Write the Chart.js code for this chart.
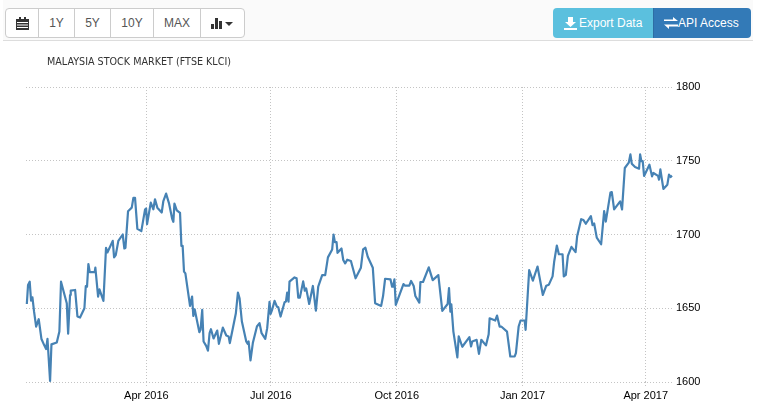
<!DOCTYPE html>
<html>
<head>
<meta charset="utf-8">
<title>Malaysia Stock Market (FTSE KLCI)</title>
<script src="https://cdn.jsdelivr.net/npm/chart.js@4"></script>
<style>
    html, body { margin: 0; padding: 0; background: #fff; }
    body { width: 758px; height: 408px; overflow: hidden; position: relative; font-family: "Liberation Sans", Arial, sans-serif; }
    #score-wrap { position: absolute; left: 0; top: 0; width: 758px; height: 408px; }
    .toolbar-bg { position: absolute; left: 3px; top: 0; width: 750px; height: 40px; background: #fafafa; border-bottom: 1px solid #ddd; }
    .btn-group { position: absolute; left: 5px; top: 8px; height: 28px; display: flex; background: #fff; border: 1px solid #ccc; border-radius: 4px; font-size: 12px; color: #555; }
    .btn-group div { display: flex; align-items: center; justify-content: center; border-left: 1px solid #ccc; box-sizing: border-box; }
    .btn-group div:first-child { border-left: 0; }
    .action { position: absolute; top: 8px; height: 30px; display: flex; align-items: center; color: #fff; font-size: 12px; box-sizing: border-box; }
    .export { left: 553px; width: 100px; background: #5bc0de; border-radius: 4px 0 0 4px; padding-left: 11px; }
    .api { left: 653px; width: 98px; background: #337ab7; border-left: 1px solid #2e6da4; border-radius: 0 4px 4px 0; padding-left: 10px; }
    .chart-title { position: absolute; left: 47px; top: 56px; font: 9.6px "DejaVu Sans", sans-serif; color: #333; white-space: nowrap; }
</style>
</head>
<body>
<div id="score-wrap"><canvas id="klci-chart" width="758" height="408"></canvas></div>
<div class="toolbar-bg"></div>
<div class="btn-group">
    <div style="width:32px"><svg width="13" height="13" viewBox="0 0 13 13"><path fill="#333" d="M0 2h13v11H0zM3 0h2v2H3zM8 0h2v2H8z"/><path stroke="#fff" stroke-width="1" d="M1 5.500h11M1 8h11M1 10.500h11"/></svg></div>
    <div style="width:36px">1Y</div>
    <div style="width:36px">5Y</div>
    <div style="width:43px">10Y</div>
    <div style="width:47px">MAX</div>
    <div style="width:44px"><svg width="24" height="12" viewBox="0 0 24 12"><path fill="#333" d="M0 7h3v5H0zM4 1h3v11H4zM8 4h3v8H8zM14 5h8l-4 4z"/></svg></div>
</div>
<div class="action export"><svg width="13" height="13" viewBox="0 0 13 13" style="margin-right:2px"><path fill="#fff" d="M4 0h5v5h3L6.500 10 1 5h3zM0 11h13v2H0z"/></svg>Export Data</div>
<div class="action api"><svg width="14" height="12" viewBox="0 0 14 12"><path fill="#fff" d="M0 2.500h9V0l5 4H0zM14 7.500v2H5V12L0 7.500z"/></svg>API Access</div>
<div class="chart-title">MALAYSIA STOCK MARKET (FTSE KLCI)</div>

<script>
// days since 1 Jan 2016
var days = [3.6, 4.5, 5.7, 6.7, 7.7, 8.9, 10.4, 12.3, 14.3, 16.2, 17.7, 18.7, 20.6, 21.6, 25.5, 27.4, 28.6, 32.8, 33.8, 35.2, 35.7, 38.9, 40.6, 42.5, 45.7, 46.7, 47.6, 48.6, 49.6, 53.2, 53.7, 55.7, 56.7, 59.6, 61.5, 62.5, 66.4, 67.4, 68.6, 70.5, 73.7, 74.9, 75.7, 77.6, 80.3, 81.5, 82.7, 84.4, 87.3, 90, 90.8, 91.5, 94.2, 96.1, 97.3, 99, 102.2, 103.4, 105.4, 107.6, 109.8, 110.7, 111.5, 113.2, 115.6, 116.6, 117.5, 118.5, 119.5, 122.9, 124.4, 125.3, 126.3, 129.7,
    130.6, 131.8, 132.8, 134.7, 136, 137.2, 138.2, 140.1, 142.8, 144, 146.9, 149.4, 151.1, 152, 154.2, 156.4, 157.9, 159.1, 160.8, 164, 165, 165.7, 167.1, 168.8, 171.8, 173.7, 175.2, 177.9, 179.3, 181, 181.8, 183, 184.7, 186.4, 187.4, 189.1, 192, 193, 193.9, 194.9, 195.6, 199.3, 200.8, 202, 203.2, 205.6, 206.8, 207.8, 210, 212.7, 214.9, 216.6, 219.5, 221.7, 223.7, 226.8, 227.8, 228.8, 230, 230.7, 233.6, 234.9, 236.3, 237.8, 240.5, 243.9, 247.8,
    249.4, 251.1, 252.8, 256.5, 258.2, 262.6, 264, 265.5, 269.4, 270.6, 271.3, 272.3, 273.3, 278.9, 280.1, 283.2, 284.5, 286.4, 287.6, 290.5, 291.3, 293.2, 297.4, 300.3, 304.4, 307.3, 311.2, 312.2, 313.2, 313.9, 315.4, 318.3, 319.3, 321.9, 327.1, 328.3, 329.2, 332.4, 334.1, 335.8, 339.2, 341.2, 341.9, 346, 347.3, 349.2, 350.4, 354.6, 357, 360.2, 361.1, 363.1, 364.5, 367.5, 368.2,
    370.8, 373.5, 376.9, 380.8, 383.3, 385.2, 387.9, 389.1, 391, 392.5, 395.2, 396.1, 397.6, 399.1, 401.7, 404.7, 405.9, 408.8, 410.5, 412.2, 415.9, 417.1, 418.3, 420.2, 423.4, 425.6, 426.8, 430.2, 431.2, 432.9, 437.3, 438.7, 440.7, 443.6, 444.8, 445.8, 448.2, 451.1, 451.9, 452.8, 453.8, 454.8, 458.7, 460.6, 461.6, 465, 465.7, 466.7, 468.9, 471.8, 473, 474.2, 475.2];

var klci = [1652.9, 1665.8, 1668, 1655.2, 1657.4, 1647.7, 1637.6, 1642.6, 1629.1, 1625.2, 1622.3, 1629.3, 1600.7, 1625.5, 1626.8, 1634.2, 1668, 1653.4, 1632.7, 1659, 1661.9, 1662.4, 1644.4, 1643.7, 1650, 1665.1, 1664.6, 1680, 1674.5, 1674.5, 1677.5, 1657.9, 1662.8, 1655, 1691, 1687.8, 1695.7, 1684.5, 1686, 1695.7, 1700, 1690.5, 1691, 1715.8, 1718.2, 1724.8, 1724.8, 1703.8, 1702.3, 1716.9, 1717.6, 1707, 1721.6, 1717.1, 1723.9, 1718.2, 1714.9, 1722.7, 1727.7, 1720.9, 1710.8, 1708.6, 1720.9, 1716.4, 1714.6, 1692.3, 1692.3, 1674.8, 1673.6, 1651.6, 1657.9, 1644.8, 1649.3, 1633.8,
    1635.4, 1648.9, 1627.5, 1624.5, 1621.2, 1633.1, 1635.8, 1629.5, 1634.9, 1625.9, 1636.9, 1631.5, 1630.9, 1626.4, 1636.5, 1646.6, 1660.6, 1656.8, 1641, 1627.5, 1625.9, 1627.5, 1614.6, 1626.4, 1637.6, 1639.9, 1633.1, 1629.3, 1636.5, 1654.3, 1646.2, 1649.3, 1655, 1651.1, 1650.7, 1644.4, 1654.1, 1654.5, 1660.6, 1654.5, 1668, 1670.9, 1670.3, 1657.2, 1657.2, 1668.2, 1661.9, 1663.5, 1652.9, 1665.1, 1648.4, 1664.6, 1672.5, 1672.5, 1684.5, 1689.9, 1700, 1694.8, 1694.8, 1687.6, 1690.5, 1682.7, 1680.4, 1682.9, 1682, 1670.3, 1677.5,
    1689.9, 1691, 1684.9, 1677.5, 1653.4, 1651.6, 1658.3, 1670, 1669.6, 1664.6, 1664.6, 1669.6, 1652.3, 1666.4, 1665.3, 1665.3, 1668.5, 1665.1, 1658.3, 1653.8, 1667.8, 1667.8, 1677.7, 1669.1, 1672.5, 1648.2, 1652.9, 1663.7, 1647.7, 1652.7, 1634.2, 1616.7, 1630.9, 1623.9, 1630.4, 1624.1, 1627.5, 1628.6, 1619.1, 1628.6, 1624.8, 1632.4, 1643.2, 1641.7, 1645, 1637.6, 1637.6, 1634.2, 1617.3, 1617.3, 1619.6, 1637.6, 1641.7, 1641.7, 1635.4,
    1675.8, 1668.7, 1678.3, 1659, 1665.3, 1666, 1671.6, 1681.7, 1692.5, 1686.6, 1686.6, 1671.6, 1672.7, 1685.5, 1691.6, 1688, 1699, 1710.4, 1709.8, 1707.3, 1712.5, 1706.4, 1707.5, 1697.9, 1693.4, 1715.8, 1708.7, 1728.4, 1728.7, 1717, 1722.4, 1717, 1745.1, 1748.7, 1754.3, 1748, 1745.7, 1744.6, 1754.3, 1749.8, 1749.8, 1739.7, 1747.3, 1739.4, 1741.7, 1739.7, 1737.2, 1744.2, 1730.9, 1733.8, 1740.6, 1739, 1739.9];

var tickDays = [91, 182, 274, 366, 456];
var tickLabels = ['Apr 2016', 'Jul 2016', 'Oct 2016', 'Jan 2017', 'Apr 2017'];
var yTicks = [1600, 1650, 1700, 1750, 1800];

var points = days.map(function (d, i) { return { x: d, y: klci[i] }; });
var tickFont = { family: 'Liberation Sans', size: 11 };

Chart.defaults.animation = false;

new Chart(document.getElementById('klci-chart'), {
    type: 'line',
    data: {
        datasets: [{
            label: 'FTSE KLCI',
            data: points,
            borderColor: '#4682b4',
            borderWidth: 2.2,
            borderJoinStyle: 'round',
            pointRadius: 0,
            tension: 0,
            fill: false,
            clip: false
        }]
    },
    options: {
        responsive: false,
        layout: { padding: { left: 26, top: 87, right: 0, bottom: 0 } },
        plugins: { legend: { display: false }, tooltip: { enabled: false } },
        scales: {
            x: {
                type: 'linear',
                min: 3,
                max: 475.2,
                afterBuildTicks: function (scale) {
                    scale.ticks = tickDays.map(function (d) { return { value: d }; });
                },
                afterFit: function (scale) { scale.height = 26; },
                ticks: {
                    autoSkip: false,
                    maxRotation: 0,
                    padding: 1,
                    color: '#000',
                    font: tickFont,
                    callback: function (val) { return tickLabels[tickDays.indexOf(val)]; }
                },
                border: { display: false, dash: [1, 2] },
                grid: { color: '#c4c4c4', lineWidth: 1, tickLength: 6, tickColor: '#c4c4c4', tickBorderDash: [1, 2] }
            },
            y: {
                position: 'right',
                min: 1600,
                max: 1800,
                afterBuildTicks: function (scale) {
                    scale.ticks = yTicks.map(function (v) { return { value: v }; });
                },
                afterFit: function (scale) { scale.width = 86; },
                ticks: {
                    padding: 4,
                    color: '#000',
                    font: tickFont,
                    callback: function (val) { return String(val); }
                },
                border: { display: false, dash: [1, 2] },
                grid: { color: '#c4c4c4', lineWidth: 1, drawTicks: false }
            }
        }
    }
});
</script>
</body>
</html>
